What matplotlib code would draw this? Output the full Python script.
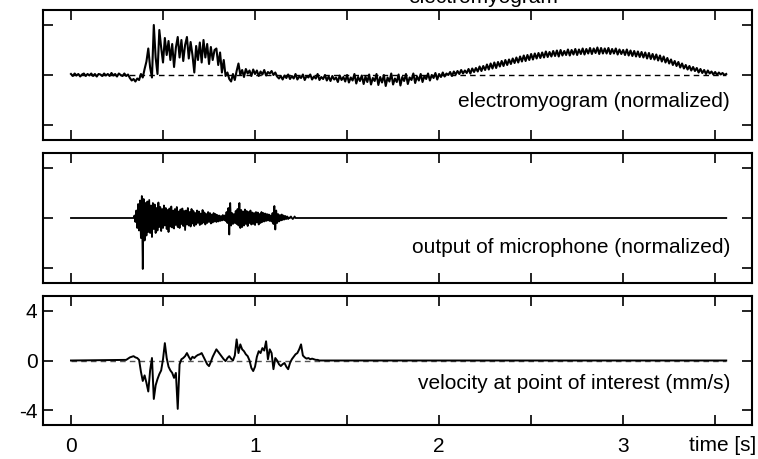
import numpy as np
import matplotlib
matplotlib.use("Agg")
import matplotlib.pyplot as plt
from matplotlib import font_manager


# sampling
emg_dt = 0.01
mic_dt = 0.005
mic_t0 = 0.34
vel_dt = 0.01
vel_t0 = 0.30
t_end = 3.56

# electromyogram (normalized), one value every 10 ms from t=0
emg = [
    0.02, -0.02, 0.03, -0.01, 0.02, -0.03, 0.01, 0.03, -0.02, 0.02,
    -0.01, 0.03, -0.02, 0.02, -0.03, 0.02, 0.01, -0.02, 0.03, -0.01,
    0.02, -0.02, 0.04, -0.01, 0.02, -0.03, 0.03, 0.00, -0.02, 0.03,
    -0.02, 0.01, -0.06, -0.11, -0.08, -0.13, -0.07, -0.10, 0.02, -0.05,
    0.12, 0.27, 0.53, 0.15, -0.05, 1.00, 0.35, 0.02, 0.90, 0.55,
    0.25, 0.74, 0.40, 0.68, 0.30, 0.62, 0.16, 0.55, 0.76, 0.35,
    0.70, 0.28, 0.60, 0.76, 0.33, 0.66, 0.40, 0.05, 0.58, 0.30,
    0.65, 0.25, 0.70, 0.35, 0.62, 0.22, 0.56, 0.30, 0.50, 0.53,
    0.20, 0.45, 0.05, 0.30, -0.02, 0.05, -0.08, -0.13, 0.02, -0.10,
    0.08, 0.23, 0.00, 0.10, -0.04, 0.12, 0.03, 0.09, -0.02, 0.11,
    0.02, 0.09, -0.02, 0.07, 0.01, 0.10, -0.01, 0.06, 0.03, 0.08,
    0.00, 0.05, -0.03, -0.07, -0.02, -0.09, -0.01, -0.06, 0.01, -0.08,
    -0.02, -0.07, 0.02, -0.09, -0.03, -0.06, 0.01, -0.10, -0.02, -0.05,
    0.01, -0.09, -0.03, -0.07, 0.02, -0.10, -0.04, -0.08, 0.00, -0.11,
    -0.03, -0.12, -0.02, -0.09, -0.05, -0.14, -0.01, -0.10, -0.04, -0.13,
    0.00, -0.15, -0.05, -0.11, 0.02, -0.17, -0.04, -0.12, -0.01, -0.18,
    -0.03, -0.14, 0.01, -0.19, -0.06, -0.12, 0.02, -0.20, -0.04, -0.15,
    0.00, -0.22, -0.05, -0.13, 0.03, -0.19, -0.07, -0.14, 0.01, -0.21,
    -0.04, -0.12, 0.02, -0.18, -0.05, -0.10, 0.03, -0.16, -0.03, -0.11,
    0.02, -0.14, -0.02, -0.08, 0.03, -0.11, 0.00, -0.06, 0.04, -0.09,
    0.02, -0.04, 0.05, -0.03, 0.03, 0.00, 0.06, -0.02, 0.07, 0.01,
    0.08, 0.02, 0.10, 0.03, 0.09, 0.04, 0.12, 0.03, 0.13, 0.06,
    0.14, 0.07, 0.17, 0.08, 0.18, 0.10, 0.21, 0.11, 0.23, 0.13,
    0.25, 0.14, 0.26, 0.17, 0.28, 0.18, 0.30, 0.20, 0.31, 0.22,
    0.33, 0.24, 0.35, 0.25, 0.37, 0.27, 0.39, 0.28, 0.40, 0.30,
    0.42, 0.31, 0.43, 0.33, 0.44, 0.34, 0.45, 0.35, 0.47, 0.36,
    0.46, 0.37, 0.48, 0.38, 0.49, 0.37, 0.50, 0.39, 0.48, 0.40,
    0.51, 0.39, 0.50, 0.41, 0.52, 0.40, 0.51, 0.42, 0.53, 0.41,
    0.52, 0.43, 0.54, 0.42, 0.53, 0.44, 0.55, 0.42, 0.54, 0.43,
    0.53, 0.43, 0.54, 0.42, 0.52, 0.43, 0.53, 0.41, 0.51, 0.42,
    0.50, 0.40, 0.51, 0.39, 0.49, 0.38, 0.48, 0.37, 0.47, 0.36,
    0.46, 0.35, 0.45, 0.33, 0.44, 0.32, 0.42, 0.31, 0.41, 0.29,
    0.39, 0.27, 0.37, 0.25, 0.34, 0.23, 0.31, 0.20, 0.28, 0.18,
    0.26, 0.15, 0.23, 0.13, 0.20, 0.11, 0.18, 0.09, 0.16, 0.08,
    0.14, 0.05, 0.12, 0.04, 0.10, 0.02, 0.09, 0.03, 0.07, 0.01,
    0.06, 0.00, 0.05, 0.01, 0.04, 0.00, 0.02,
]

# microphone output (normalized), every 5 ms from 0.34 s, zero elsewhere
mic = [
    0.00, 0.05, -0.08, 0.15, -0.20, 0.28, -0.25, 0.35, -0.40, 0.44,
    -1.02, 0.38, -0.45, 0.30, -0.35, 0.33, -0.28, 0.36, -0.30, 0.25,
    -0.38, 0.30, -0.22, 0.27, -0.30, 0.20, -0.25, 0.31, -0.18, 0.22,
    -0.26, 0.18, -0.20, 0.25, -0.15, 0.20, -0.22, 0.16, -0.28, 0.19,
    -0.17, 0.23, -0.19, 0.15, -0.21, 0.18, -0.14, 0.22, -0.18, 0.13,
    -0.20, 0.17, -0.12, 0.19, -0.16, 0.14, -0.24, 0.15, -0.13, 0.20,
    -0.15, 0.12, -0.17, 0.18, -0.11, 0.14, -0.16, 0.10, -0.13, 0.15,
    -0.10, 0.13, -0.14, 0.09, -0.12, 0.16, -0.09, 0.11, -0.13, 0.08,
    -0.10, 0.12, -0.08, 0.10, -0.11, 0.07, -0.09, 0.10, -0.07, 0.08,
    -0.08, 0.06, -0.07, 0.05, -0.06, 0.04, -0.05, 0.06, -0.04, 0.05,
    -0.06, 0.12, -0.10, 0.20, -0.33, 0.30, -0.15, 0.10, -0.12, 0.08,
    -0.10, 0.14, -0.12, 0.18, -0.15, 0.30, -0.20, 0.16, -0.18, 0.13,
    -0.15, 0.17, -0.12, 0.14, -0.16, 0.12, -0.10, 0.15, -0.13, 0.11,
    -0.12, 0.10, -0.14, 0.12, -0.09, 0.11, -0.13, 0.08, -0.10, 0.12,
    -0.08, 0.10, -0.07, 0.09, -0.06, 0.08, -0.05, 0.07, -0.06, 0.05,
    -0.07, 0.10, -0.12, 0.24, -0.23, 0.15, -0.10, 0.08, -0.07, 0.06,
    -0.05, 0.07, -0.04, 0.05, -0.03, 0.04, -0.02, 0.03, -0.02, 0.01,
    0.00, 0.03, 0.00, -0.02, 0.00, 0.03, 0.00, 0.00, 0.00, 0.00,
]

# velocity at point of interest (mm/s), every 10 ms from 0.30 s, zero elsewhere
vel = [
    0.05, 0.15, 0.25, 0.30, 0.35, 0.25, 0.20, 0.05, -0.9, -1.65,
    -1.2, -1.8, -2.5, -0.8, 0.2, -3.1, -2.0, -1.5, -1.1, -0.8,
    0.1, 1.4, 0.2, -0.5, -0.8, -1.0, -1.4, -1.0, -3.9, -0.3,
    0.1, 0.2, 0.35, 0.6, 0.3, 0.05, 0.3, 0.2, 0.35, 0.45,
    0.5, 0.6, 0.3, 0.0, -0.3, -0.45, -0.1, 0.3, 0.6, 0.9,
    0.7, 0.5, 0.3, 0.1, -0.05, 0.2, 0.35, 0.15, 0.0, 0.4,
    1.7, 0.6, 1.3, 0.9, 0.75, 0.5, 0.35, 0.0, -0.6, -0.85,
    -0.5, 0.3, 0.75, 0.6, 1.0, 0.8, 1.55, 0.1, 0.9, 0.6,
    -0.7, 0.2, 0.0, -0.3, -0.45, -0.3, -0.2, -0.5, -0.7, -0.2,
    0.1, 0.3, 0.5, 0.6, 0.9, 1.3, 0.4, 0.25, 0.15, 0.2,
    0.1, 0.15, 0.1, 0.05, 0.05, 0.0,
]

labels = [
    "electromyogram (normalized)",
    "output of microphone (normalized)",
    "velocity at point of interest (mm/s)",
]
x_ticks = [0, 0.5, 1, 1.5, 2, 2.5, 3, 3.5]
x_ticklabels = ["0", "", "1", "", "2", "", "3", ""]
vel_ticks = [-4, 0, 4]


plt.rcParams["font.family"] = ["Liberation Sans", "DejaVu Sans"]

fig = plt.figure(figsize=(7.58, 4.59), dpi=100)
W, H = 758, 459


def add_panel(top, bottom):
    left, right = 43, 752
    return fig.add_axes([left / W, 1 - bottom / H, (right - left) / W, (bottom - top) / H])


ax1 = add_panel(10, 140)
ax2 = add_panel(153, 283)
ax3 = add_panel(296, 425)

t_emg = np.arange(len(emg)) * emg_dt
t_mic = np.concatenate([[0.0], mic_t0 + np.arange(len(mic)) * mic_dt, [t_end]])
y_mic = np.concatenate([[0.0], mic, [0.0]])
t_vel = np.concatenate([[0.0], vel_t0 + np.arange(len(vel)) * vel_dt, [t_end]])
y_vel = np.concatenate([[0.0], vel, [0.0]])

ax1.plot([0, t_end], [0, 0], color="black", lw=1.0, ls=(0, (4, 3)), zorder=1)
ax1.plot(t_emg, emg, color="black", lw=1.5, zorder=2)
ax2.plot(t_mic, y_mic, color="black", lw=1.3)
ax3.plot([0, t_end], [0, 0], color="#555555", lw=1.0, ls=(0, (4, 3)), zorder=1)
ax3.plot(t_vel, y_vel, color="black", lw=1.4, zorder=2)

for ax in (ax1, ax2, ax3):
    ax.set_xlim(-0.152, 3.70)
    ax.set_xticks(x_ticks)
    ax.tick_params(direction="in", length=7, width=1.2, top=True, right=True,
                   labelsize=15, pad=4)
    for s in ax.spines.values():
        s.set_linewidth(1.5)

for ax in (ax1, ax2):
    ax.set_ylim(-1.3, 1.3)
    ax.set_yticks([-1, 0, 1])
    ax.set_yticklabels([])
    ax.set_xticklabels([])

ax3.set_ylim(-5.2, 5.2)
ax3.set_yticks(vel_ticks)
ax3.set_yticklabels([str(v) for v in vel_ticks])
ax3.set_xticklabels(x_ticklabels)
ax3.tick_params(axis="x", pad=9)

label_y = [0.254, 0.23, 0.28]
for ax, text, ly in zip((ax1, ax2, ax3), labels, label_y):
    ax.text(3.58, ly, text, transform=ax.get_xaxis_transform(), ha="right",
            va="baseline", fontsize=15)

fig.text(408 / W, 1 - 3 / H, "electromyogram", ha="left", va="baseline",
         fontsize=15)
fig.text(756 / W, 1 - 451 / H, "time [s]", ha="right", va="baseline", fontsize=15)

fig.savefig("out.png", dpi=100)
